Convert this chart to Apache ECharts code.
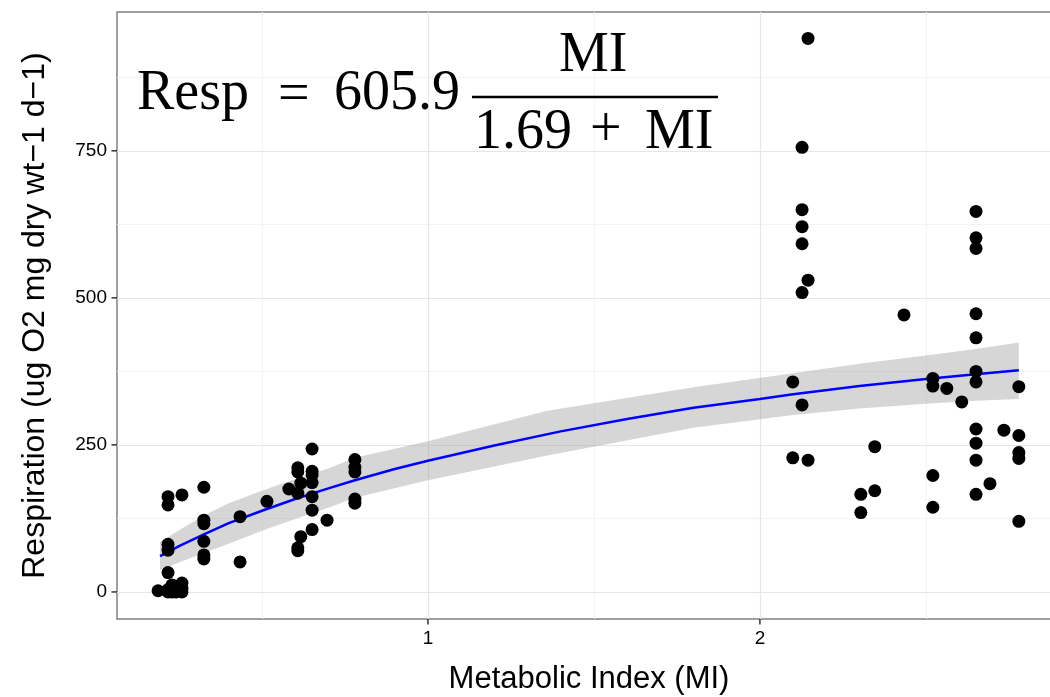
<!DOCTYPE html>
<html>
<head>
<meta charset="utf-8">
<script src="https://cdn.jsdelivr.net/npm/echarts@6/dist/echarts.min.js"></script>
<style>html,body{margin:0;padding:0;background:#fff}#chart{width:1050px;height:697px}</style>
</head>
<body>
<div id="chart"></div>
<script>
// ---- data ----
const pointMI = [
  0.187, 0.217, 0.217, 0.229, 0.229, 0.241, 0.259, 0.259, 0.259,
  0.217, 0.217, 0.217, 0.217, 0.217, 0.259,
  0.325, 0.325, 0.325, 0.325, 0.325, 0.325,
  0.434, 0.434, 0.515, 0.581,
  0.608, 0.608, 0.608, 0.608, 0.608, 0.617, 0.617,
  0.651, 0.651, 0.651, 0.651, 0.651, 0.651, 0.651, 0.696,
  0.780, 0.780, 0.780, 0.780, 0.780,
  2.099, 2.099,
  2.127, 2.127, 2.127, 2.127, 2.127, 2.127,
  2.145, 2.145, 2.145,
  2.304, 2.304, 2.346, 2.346, 2.434,
  2.521, 2.521, 2.521, 2.521, 2.563, 2.608,
  2.651, 2.651, 2.651, 2.651, 2.651, 2.651, 2.651, 2.651, 2.651, 2.651, 2.651,
  2.693, 2.735,
  2.780, 2.780, 2.780, 2.780, 2.780
];
const pointResp = [
  2, 0, 4, 12, 0, 0, 15, 6, 0,
  162, 148, 81, 71, 33, 165,
  178, 122, 116, 86, 63, 56,
  128, 51, 154, 175,
  211, 204, 168, 75, 70, 185, 94,
  243, 205, 199, 186, 162, 139, 106, 122,
  225, 212, 204, 158, 151,
  357, 228,
  756, 650, 621, 592, 509, 318,
  941, 530, 224,
  166, 135, 247, 172, 471,
  363, 350, 198, 144, 346, 323,
  647, 602, 584, 473, 432, 375, 357, 277, 253, 224, 166,
  184, 275,
  349, 266, 237, 227, 120
];
const fitMI   = [0.193, 0.25, 0.325, 0.4, 0.5, 0.6, 0.7, 0.78, 0.9, 1.0, 1.2, 1.4, 1.6, 1.8, 2.0, 2.1, 2.3, 2.5, 2.65, 2.78];
const fitResp = [61, 78, 98, 117, 138, 158, 176, 190, 209, 223, 249, 273, 294, 313, 328, 336, 350, 362, 370, 377];
const bandMI   = [0.193, 0.25, 0.325, 0.4, 0.5, 0.6, 0.7, 0.78, 1.0, 1.36, 1.8, 2.1, 2.3, 2.5, 2.65, 2.78];
const bandLow  = [37, 50, 66, 82, 104, 124, 143, 160, 190, 232, 279, 301, 312, 320, 325, 328];
const bandHigh = [85, 105, 130, 151, 172, 192, 210, 228, 256, 308, 348, 372, 388, 402, 413, 424];
const xTicks = [1, 2];
const xMinor = [0.5, 1.5, 2.5];
const yTicks = [0, 250, 500, 750];
const yMinor = [125, 375, 625, 875];
const xTitle = 'Metabolic Index (MI)';
const yTitle = 'Respiration (ug O2 mg dry wt\u22121 d\u22121)';

const chart = echarts.init(document.getElementById('chart'), null, {renderer: 'canvas'});
const MAJOR = '#e6e6e6', MINOR = '#f3f3f3';
const gridLines = [];
xMinor.forEach(v => gridLines.push({xAxis: v, lineStyle: {color: MINOR, width: 1, type: 'solid'}}));
yMinor.forEach(v => gridLines.push({yAxis: v, lineStyle: {color: MINOR, width: 1, type: 'solid'}}));
xTicks.forEach(v => gridLines.push({xAxis: v, lineStyle: {color: MAJOR, width: 1.2, type: 'solid'}}));
yTicks.forEach(v => gridLines.push({yAxis: v, lineStyle: {color: MAJOR, width: 1.2, type: 'solid'}}));

const SANS = '"Liberation Sans", Arial, sans-serif';
const SERIF = '"Liberation Serif", "Times New Roman", serif';
const eqFont = 56;
function eqText(t, x, y) {
  return {type: 'text', x: x, y: y, z: 100,
    style: {text: t, fontSize: eqFont, fontFamily: SERIF, fill: '#000', align: 'left', verticalAlign: 'middle'}};
}
const GRID_LEFT = 117, GRID_TOP = 12, GRID_BOTTOM = 78, CHART_H = 697;
const graphicElems = [
  eqText('Resp', 137, 94),
  eqText('=', 278, 96),
  eqText('605.9', 334, 94),
  eqText('MI', 559, 56),
  eqText('1.69', 474, 133),
  eqText('+', 590, 131),
  eqText('MI', 645, 133),
  {type: 'line', z: 100, shape: {x1: 472, y1: 97, x2: 718, y2: 97}, style: {stroke: '#000', lineWidth: 2.6}}
];

chart.setOption({
  animation: false,
  backgroundColor: '#fff',
  grid: {left: GRID_LEFT, top: GRID_TOP, right: -11, bottom: GRID_BOTTOM, outerBoundsMode: 'none', containLabel: false,
    show: true, borderColor: '#808080', borderWidth: 1.5, backgroundColor: 'transparent'},
  xAxis: {
    type: 'value', min: 0.0633, max: 2.907,
    name: xTitle, nameLocation: 'middle', nameGap: 45,
    nameTextStyle: {fontFamily: SANS, fontSize: 31, color: '#000'},
    axisLine: {show: false, onZero: false},
    axisTick: {show: false},
    axisLabel: {customValues: xTicks, fontFamily: SANS, fontSize: 19, color: '#000', margin: 10},
    splitLine: {show: false}
  },
  yAxis: {
    type: 'value', min: -46, max: 986,
    name: yTitle, nameLocation: 'middle', nameGap: 66, nameRotate: 90,
    nameTextStyle: {fontFamily: SANS, fontSize: 32, color: '#000'},
    axisLine: {show: false, onZero: false},
    axisTick: {show: false},
    axisLabel: {customValues: yTicks, fontFamily: SANS, fontSize: 19, color: '#000', margin: 10},
    splitLine: {show: false}
  },
  series: [
    {
      type: 'line', data: [], z: 0, silent: true,
      markLine: {z: 0, silent: true, symbol: ['none', 'none'], label: {show: false}, animation: false, data: gridLines}
    },
    {
      type: 'custom', z: 1, silent: true, data: [[bandMI[0], bandLow[0]]],
      renderItem: function (params, api) {
        const pts = [];
        for (let i = 0; i < bandMI.length; i++) pts.push(api.coord([bandMI[i], bandHigh[i]]));
        for (let i = bandMI.length - 1; i >= 0; i--) pts.push(api.coord([bandMI[i], bandLow[i]]));
        return {type: 'polygon', shape: {points: pts}, style: {fill: 'rgba(153,153,153,0.4)'}};
      }
    },
    {
      type: 'line', z: 2, silent: true, showSymbol: false, smooth: false,
      data: fitMI.map((m, i) => [m, fitResp[i]]),
      lineStyle: {color: '#0000ff', width: 2.5}
    },
    {
      type: 'scatter', z: 3, symbolSize: 13,
      data: pointMI.map((m, i) => [m, pointResp[i]]),
      itemStyle: {color: '#000', opacity: 1}
    }
  ],
  graphic: graphicElems
});

// axis tick marks, placed through the library's own axis scales
try {
  const tickElems = [];
  const axisBottom = CHART_H - GRID_BOTTOM;
  yTicks.forEach(v => {
    const py = chart.convertToPixel({yAxisIndex: 0}, v);
    if (isFinite(py)) tickElems.push({type: 'line', z: 50, silent: true,
      shape: {x1: GRID_LEFT - 5.5, y1: py, x2: GRID_LEFT, y2: py}, style: {stroke: '#333', lineWidth: 1.5}});
  });
  xTicks.forEach(v => {
    const px = chart.convertToPixel({xAxisIndex: 0}, v);
    if (isFinite(px)) tickElems.push({type: 'line', z: 50, silent: true,
      shape: {x1: px, y1: axisBottom, x2: px, y2: axisBottom + 5.5}, style: {stroke: '#333', lineWidth: 1.5}});
  });
  chart.setOption({graphic: graphicElems.concat(tickElems)});
} catch (e) { /* ticks are optional */ }
</script>
</body>
</html>
